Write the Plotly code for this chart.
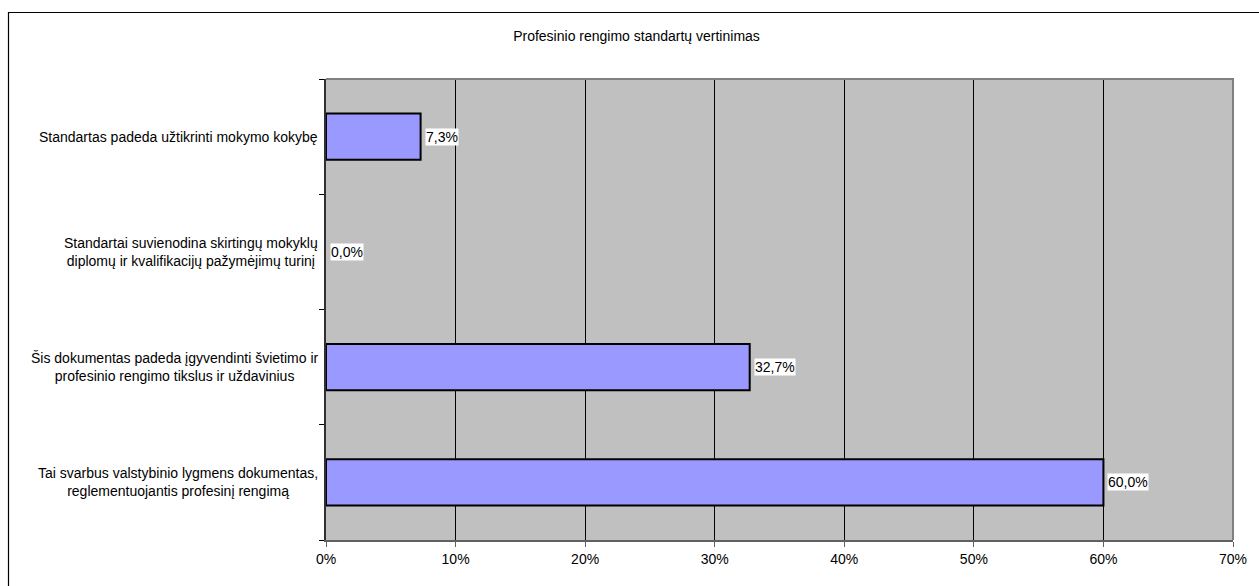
import plotly.graph_objects as go

title = "Profesinio rengimo standartų vertinimas"
categories = [
    "Standartas padeda užtikrinti mokymo kokybę",
    "Standartai suvienodina skirtingų mokyklų<br>diplomų ir kvalifikacijų pažymėjimų turinį",
    "Šis dokumentas padeda įgyvendinti švietimo ir<br>profesinio rengimo tikslus ir uždavinius",
    "Tai svarbus valstybinio lygmens dokumentas,<br>reglementuojantis profesinį rengimą",
]
values = [7.3, 0.0, 32.7, 60.0]
value_labels = ["7,3%", "0,0%", "32,7%", "60,0%"]
x_ticks = [0, 10, 20, 30, 40, 50, 60, 70]
x_tick_labels = ["0%", "10%", "20%", "30%", "40%", "50%", "60%", "70%"]

W, H = 1259, 586
L, R, T, B = 326, 26, 79, 46
pw, ph = W - L - R, H - T - B

font_family = "Liberation Sans, Arial, sans-serif"
fs = 14

fig = go.Figure()
fig.add_trace(go.Bar(
    x=values, y=categories, orientation="h",
    marker=dict(color="#9999FF",
                line=dict(color="black", width=[2 if v > 0 else 0 for v in values])),
    width=0.4, hoverinfo="skip",
))

annotations = []
for c, v, lab in zip(categories, values, value_labels):
    annotations.append(dict(
        x=v, y=c, xref="x", yref="y", text=lab, showarrow=False,
        xanchor="left", yanchor="middle", xshift=4, bgcolor="white",
        borderpad=0, font=dict(size=fs, color="black", family=font_family),
    ))
    annotations.append(dict(
        x=0, y=c, xref="paper", yref="y", text=c, showarrow=False,
        xanchor="right", yanchor="middle", align="center", xshift=-6,
        font=dict(size=fs, color="black", family=font_family),
    ))

fx = lambda px: (px - L) / pw
fy = lambda py: (H - B - py) / ph

shapes = [
    dict(type="rect", xref="paper", yref="paper",
         x0=fx(8.5), y0=fy(H + 20), x1=fx(W + 20), y1=fy(12.5),
         line=dict(color="black", width=1.2), layer="below"),
    dict(type="path", xref="paper", yref="paper",
         path="M 0,1 L 1,1 L 1,0", line=dict(color="#808080", width=2), layer="above"),
]

fig.update_layout(
    width=W, height=H,
    margin=dict(l=L, r=R, t=T, b=B),
    paper_bgcolor="white", plot_bgcolor="#C0C0C0",
    showlegend=False,
    font=dict(family=font_family, size=fs, color="black"),
    title=dict(text=title, xref="container", x=636.5 / W, xanchor="center",
               y=1 - 36 / H, yanchor="middle",
               font=dict(size=fs, family=font_family, color="black")),
    xaxis=dict(range=[0, 70], tickvals=x_ticks, ticktext=x_tick_labels,
               showgrid=True, gridcolor="black", gridwidth=1,
               showline=True, linecolor="#606060", linewidth=1.5,
               ticks="outside", ticklen=5, tickcolor="#606060",
               zeroline=False, fixedrange=True,
               tickfont=dict(size=fs, family=font_family)),
    yaxis=dict(categoryorder="array", categoryarray=categories[::-1],
               showticklabels=False, showgrid=False,
               showline=True, linecolor="#303030", linewidth=1.5,
               ticks="outside", ticklen=5, tickson="boundaries", tickcolor="black",
               fixedrange=True),
    annotations=annotations,
    shapes=shapes,
)

fig.write_html("out.html")
